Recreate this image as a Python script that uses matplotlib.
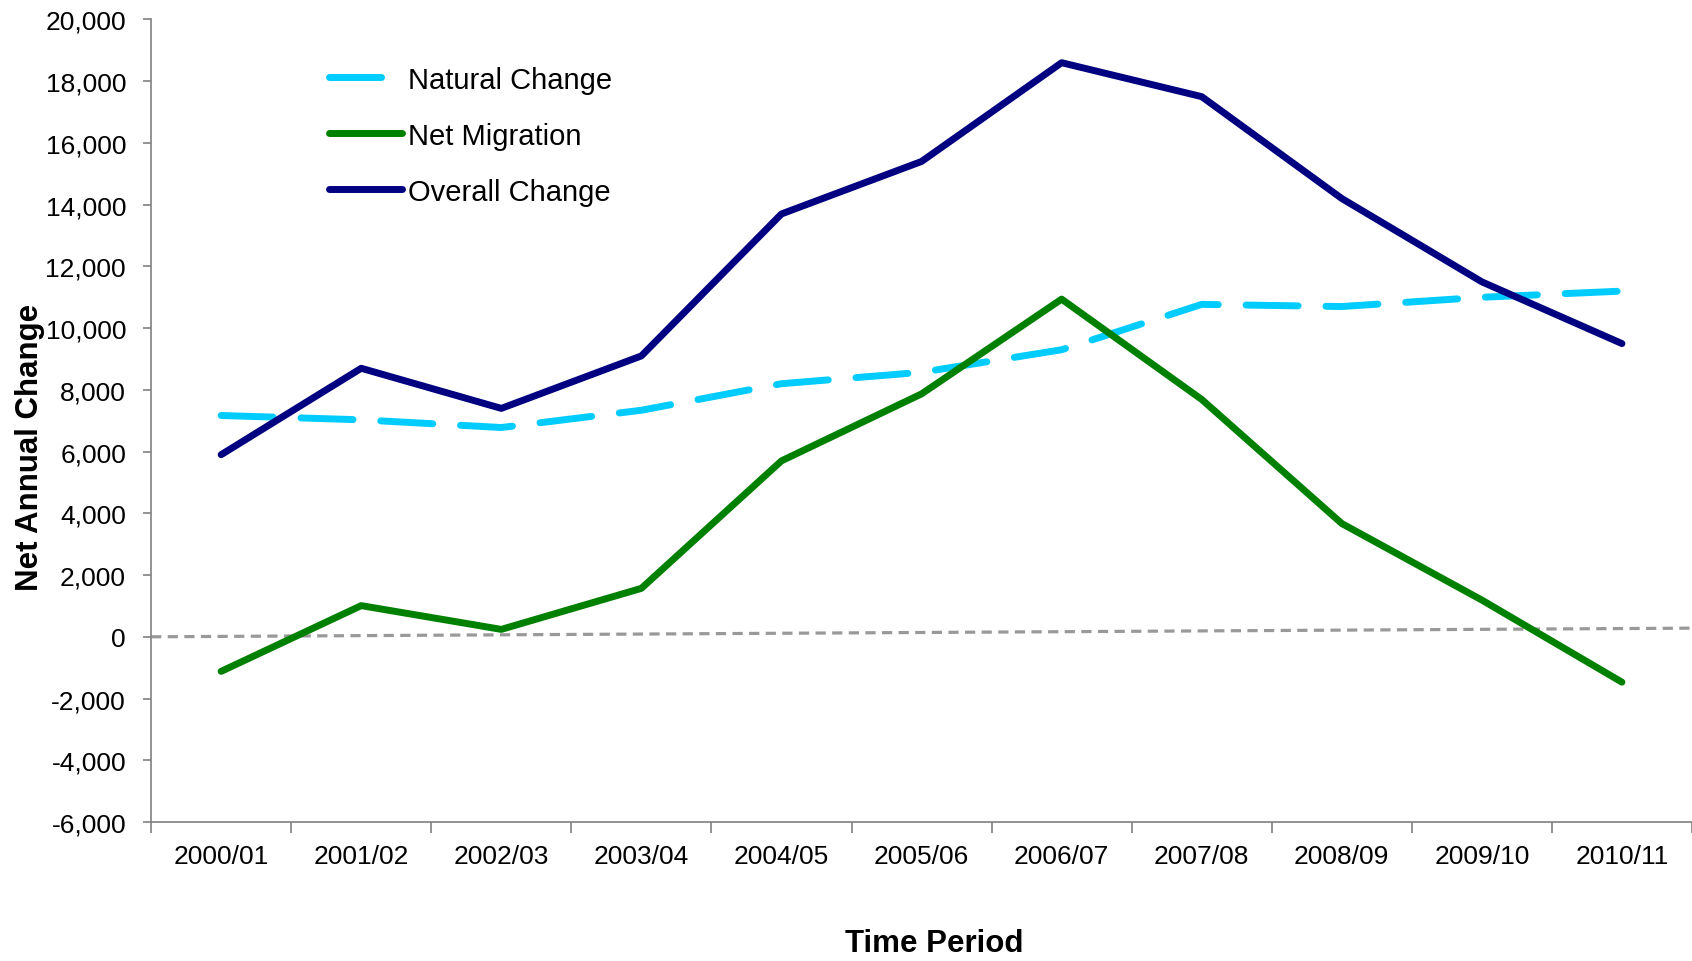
import matplotlib.pyplot as plt
import matplotlib.ticker as mticker
import numpy as np

plt.rcParams['font.family'] = ['Liberation Sans', 'DejaVu Sans']
plt.rcParams['axes.unicode_minus'] = False

periods = ['2000/01', '2001/02', '2002/03', '2003/04', '2004/05', '2005/06',
           '2006/07', '2007/08', '2008/09', '2009/10', '2010/11']
natural = [7170, 7030, 6780, 7340, 8200, 8570, 9300, 10770, 10700, 11000, 11200]
migration = [-1120, 1010, 240, 1570, 5700, 7870, 10940, 7690, 3670, 1190, -1470]
overall = [5900, 8700, 7400, 9100, 13700, 15400, 18600, 17500, 14200, 11500, 9500]
# faint grey guide line, drawn from axis edge to axis edge
guide_x = [-0.5, 10.5]
guide_y = [0, 280]

x = np.arange(len(periods))

fig = plt.figure(figsize=(16.92, 9.62), dpi=100)
ax = fig.add_axes([0.0893, 0.1445, 0.9107, 0.8342])

ax.plot(guide_x, guide_y, color='#999999', lw=2.3, dashes=(3.2, 2), zorder=1)

ax.plot(x, natural, color='#00CCFF', lw=5, dashes=(7.5, 4),
        dash_capstyle='round', label='Natural Change', zorder=2)
ax.plot(x, migration, color='#008000', lw=5, solid_capstyle='round',
        solid_joinstyle='round', label='Net Migration', zorder=3)
ax.plot(x, overall, color='#000080', lw=5, solid_capstyle='round',
        solid_joinstyle='round', label='Overall Change', zorder=4)

ax.set_xlim(-0.5, 10.5)
ax.set_ylim(-6000, 20000)
ax.set_yticks(np.arange(-6000, 20001, 2000))
ax.yaxis.set_major_formatter(mticker.StrMethodFormatter('{x:,.0f}'))

ax.set_xticks(x)
ax.set_xticklabels(periods)
ax.set_xticks(np.arange(-0.5, 10.6, 1), minor=True)
ax.tick_params(axis='x', which='major', length=0, pad=15.5, labelsize=19)
ax.tick_params(axis='x', which='minor', length=8, color='#808080', width=1.2)
ax.tick_params(axis='y', length=6, color='#808080', width=1.2, pad=12,
               labelsize=19)

for s in ['top', 'right']:
    ax.spines[s].set_visible(False)
for s in ['left', 'bottom']:
    ax.spines[s].set_color('#808080')
    ax.spines[s].set_linewidth(1.2)

ax.set_xlabel('Time Period', fontsize=22.5, fontweight='bold')
ax.xaxis.set_label_coords(0.508, -0.151)
ax.xaxis.label.set_va('center')
ax.set_ylabel('Net Annual Change', fontsize=22.5, fontweight='bold')
ax.yaxis.set_label_coords(-0.0785, 0.4685)
ax.yaxis.label.set_va('center')

ax.legend(loc='upper left', bbox_to_anchor=(0.1155, 0.9425), frameon=False,
          fontsize=21, handlelength=2.5, handletextpad=0.2,
          labelspacing=0.96, borderpad=0, borderaxespad=0)

fig.savefig('out.png', dpi=100)
